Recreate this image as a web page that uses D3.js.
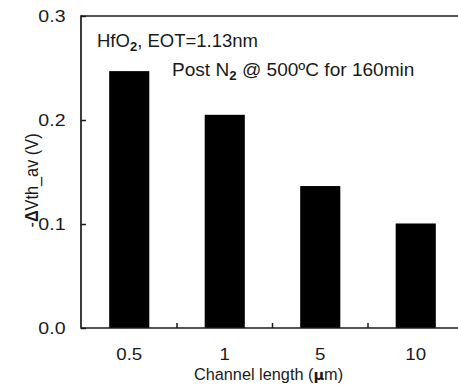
<!DOCTYPE html>
<html><head><meta charset="utf-8">
<script src="https://cdn.jsdelivr.net/npm/d3@7"></script>
<style>body{margin:0;background:#fff}svg{display:block}text{font-family:Arial,"Liberation Sans",sans-serif;fill:#1a1a1a}</style>
</head><body>
<script>
const categories = ["0.5", "1", "5", "10"];
const values = [0.247, 0.205, 0.1365, 0.1005];
const yTicks = [0.0, 0.1, 0.2, 0.3];

(function () {
const W = 458, H = 385;
const svg = d3.select("body").append("svg").attr("width", W).attr("height", H);
const mLeft = 81, mTop = 16, mBottom = 328, mRight = 463.5;

const x = d3.scaleBand().domain(categories).range([mLeft + 0.5, mRight]).paddingInner(0.58).paddingOuter(0.29);
const y = d3.scaleLinear().domain([0, 0.3]).range([mBottom, mTop]);

svg.selectAll("rect.bar").data(values).join("rect")
  .attr("x", (d, i) => x(categories[i]))
  .attr("y", d => y(d))
  .attr("width", x.bandwidth())
  .attr("height", d => y(0) - y(d))
  .attr("fill", "#000");

const stroke = "#1a1a1a";
svg.append("line").attr("x1", mLeft).attr("x2", W).attr("y1", y(0.3)).attr("y2", y(0.3)).attr("stroke", stroke).attr("stroke-width", 1.7);
svg.append("line").attr("x1", mLeft).attr("x2", W).attr("y1", y(0)).attr("y2", y(0)).attr("stroke", stroke).attr("stroke-width", 1.7);
svg.append("line").attr("x1", mLeft).attr("x2", mLeft).attr("y1", y(0.3) - 0.85).attr("y2", y(0) + 0.85).attr("stroke", stroke).attr("stroke-width", 1.7);

// y ticks
const yAxis = d3.axisLeft(y).tickValues(yTicks).tickFormat(d3.format(".1f")).tickSizeInner(-5).tickSizeOuter(0).tickPadding(0);
const gy = svg.append("g").attr("transform", `translate(${mLeft},0)`).call(yAxis);
gy.select(".domain").remove();
gy.selectAll(".tick line").attr("stroke", stroke).attr("stroke-width", 1.5);
gy.selectAll(".tick text").remove();
svg.selectAll("text.yl").data(yTicks).join("text")
  .attr("transform", d => `translate(65.5,${y(d) + 6}) scale(1.15,1)`)
  .attr("text-anchor", "end").attr("font-size", 17).text(d3.format(".1f"));

// x separator ticks
const step = x.step();
const seps = categories.slice(1).map(c => x(c) - x.paddingInner() * step / 2);
svg.selectAll("line.sep").data(seps).join("line")
  .attr("x1", d => d).attr("x2", d => d).attr("y1", y(0)).attr("y2", y(0) - 5)
  .attr("stroke", stroke).attr("stroke-width", 1.5);

// x tick labels
svg.selectAll("text.xl").data(categories).join("text")
  .attr("transform", d => `translate(${x(d) + x.bandwidth() / 2},359.5) scale(1.1,1)`)
  .attr("text-anchor", "middle").attr("font-size", 17).text(d => d);

// x title
const xt = svg.append("text").attr("transform", "translate(268.5,380)").attr("text-anchor", "middle").attr("font-size", 16.3);
xt.append("tspan").text("Channel length (");
xt.append("tspan").attr("font-family", "'DejaVu Sans', sans-serif").attr("font-weight", "bold").attr("font-size", 14.5).text("μ");
xt.append("tspan").text("m)");

// y title
const yt = svg.append("text").attr("transform", "translate(37.5,180.5) scale(1.14,1) rotate(-90)").attr("text-anchor", "middle").attr("font-size", 16.3);
yt.append("tspan").text("-");
yt.append("tspan").attr("font-weight", "bold").text("Δ");
yt.append("tspan").text("Vth_av (V)");

// annotations
const a1 = svg.append("text").attr("x", 97).attr("y", 46.5).attr("font-size", 18.5);
a1.append("tspan").text("HfO");
a1.append("tspan").attr("font-size", 13).attr("font-weight", "bold").attr("dy", 4).text("2");
a1.append("tspan").attr("dy", -4).text(", EOT=1.13nm");

const a2 = svg.append("text").attr("transform", "translate(172,76) scale(1.06,1)").attr("font-size", 18);
a2.append("tspan").text("Post N");
a2.append("tspan").attr("font-size", 12.5).attr("font-weight", "bold").attr("dy", 4).text("2");
a2.append("tspan").attr("dy", -4).text(" @ 500ºC for 160min");
})();
</script>
</body></html>
